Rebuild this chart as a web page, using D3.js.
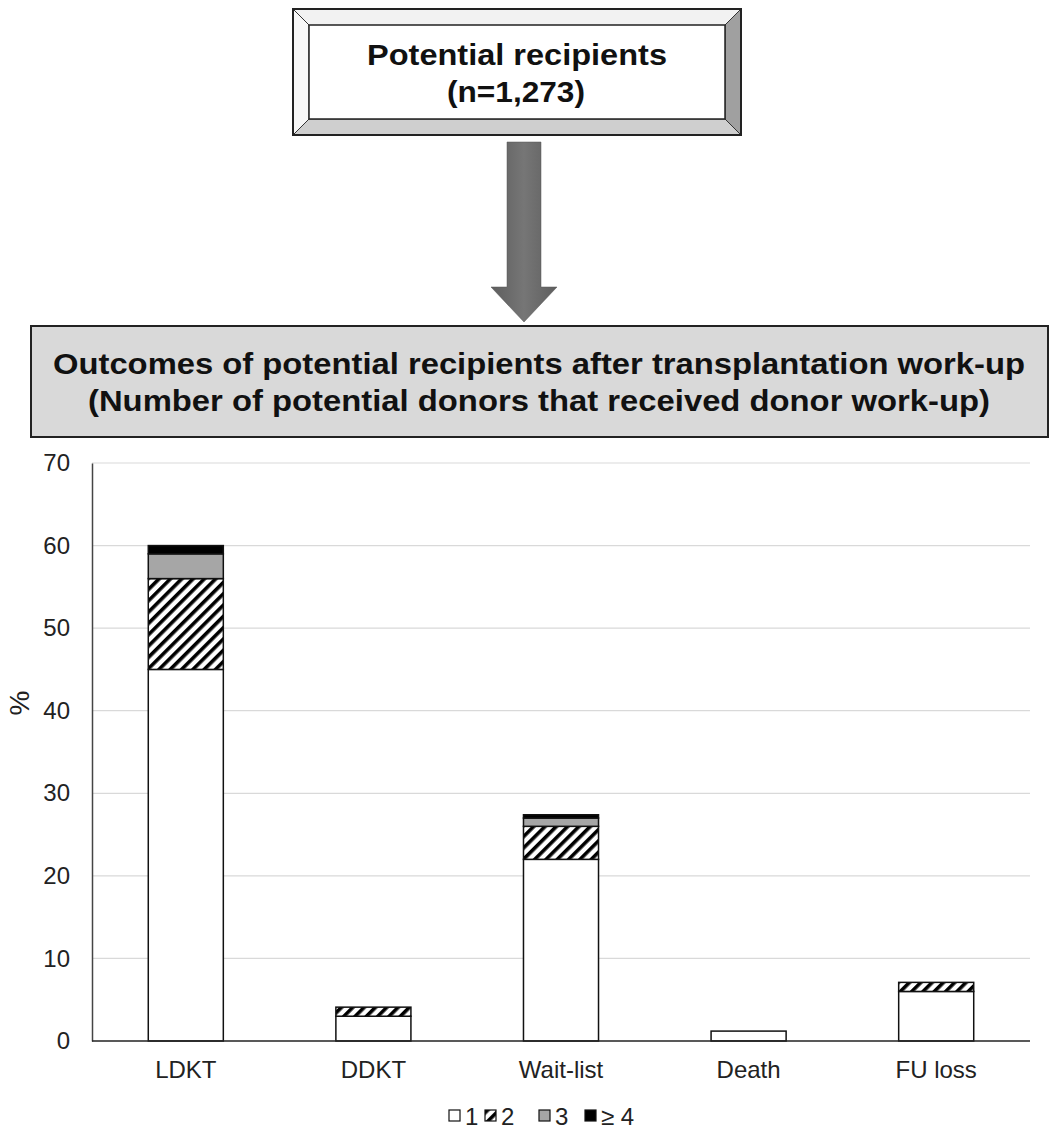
<!DOCTYPE html>
<html lang="en">
<head>
<meta charset="UTF-8">
<title>Outcomes of potential recipients</title>
<script src="https://cdn.jsdelivr.net/npm/d3@7"></script>
<style>
    body { margin: 0; background: #fff; }
    svg { display: block; font-family: "Liberation Sans", Arial, sans-serif; }
</style>
</head>
<body>
<script>

    var categories = ["LDKT", "DDKT", "Wait-list", "Death", "FU loss"];
    var seriesKeys = ["1", "2", "3", "\u2265 4"];
    var one   = [45, 3, 22, 1.2, 6];
    var two   = [11, 1.1, 4, 0, 1.1];
    var three = [3, 0, 1, 0, 0];
    var four  = [1, 0, 0.4, 0, 0];
    var yTicks = [0, 10, 20, 30, 40, 50, 60, 70];

    var width = 1062, height = 1144;
    var svg = d3.select("body").append("svg")
        .attr("width", width)
        .attr("height", height);

    var defs = svg.append("defs");
    var pat = defs.append("pattern")
        .attr("id", "hatch")
        .attr("patternUnits", "userSpaceOnUse")
        .attr("width", 8).attr("height", 8)
        .attr("patternTransform", "rotate(45)");
    pat.append("rect").attr("width", 8).attr("height", 8).attr("fill", "#fff");
    pat.append("rect").attr("x", 0).attr("width", 3.6).attr("height", 8).attr("fill", "#000");

    var grad = defs.append("linearGradient").attr("id", "arrowGrad")
        .attr("x1", 0).attr("x2", 1).attr("y1", 0).attr("y2", 0);
    grad.append("stop").attr("offset", "0%").attr("stop-color", "#5e5e5e");
    grad.append("stop").attr("offset", "50%").attr("stop-color", "#767676");
    grad.append("stop").attr("offset", "100%").attr("stop-color", "#5e5e5e");

    // top bevelled box
    var bx0 = 293, bx1 = 741, by0 = 9, by1 = 135, bv = 16;
    var gTop = svg.append("g");
    gTop.append("rect").attr("x", bx0).attr("y", by0)
        .attr("width", bx1 - bx0).attr("height", by1 - by0).attr("fill", "#f2f2f2");
    gTop.append("polygon")
        .attr("points", [[bx1, by0], [bx1, by1], [bx1 - bv, by1 - bv], [bx1 - bv, by0 + bv]].join(" "))
        .attr("fill", "#a0a0a0").attr("stroke", "#333").attr("stroke-width", 1);
    gTop.append("polygon")
        .attr("points", [[bx0, by1], [bx1, by1], [bx1 - bv, by1 - bv], [bx0 + bv, by1 - bv]].join(" "))
        .attr("fill", "#cfcfcf").attr("stroke", "#333").attr("stroke-width", 1);
    gTop.append("polygon")
        .attr("points", [[bx0, by0], [bx0 + bv, by0 + bv], [bx0 + bv, by1 - bv], [bx0, by1]].join(" "))
        .attr("fill", "#f7f7f7").attr("stroke", "#333").attr("stroke-width", 1);
    gTop.append("rect").attr("x", bx0 + bv).attr("y", by0 + bv)
        .attr("width", bx1 - bx0 - 2 * bv).attr("height", by1 - by0 - 2 * bv)
        .attr("fill", "#fff").attr("stroke", "#222").attr("stroke-width", 1.5);
    gTop.append("rect").attr("x", bx0).attr("y", by0)
        .attr("width", bx1 - bx0).attr("height", by1 - by0)
        .attr("fill", "none").attr("stroke", "#222").attr("stroke-width", 2);
    gTop.append("text").attr("x", 367).attr("y", 65)
        .attr("font-size", 30).attr("font-weight", "bold")
        .attr("textLength", 300).attr("lengthAdjust", "spacingAndGlyphs")
        .attr("fill", "#111").text("Potential recipients");
    gTop.append("text").attr("x", 447).attr("y", 102)
        .attr("font-size", 30).attr("font-weight", "bold")
        .attr("textLength", 138).attr("lengthAdjust", "spacingAndGlyphs")
        .attr("fill", "#111").text("(n=1,273)");

    // arrow
    var ax = 524;
    svg.append("polygon")
        .attr("points", [[ax - 17, 142], [ax + 17, 142], [ax + 17, 287], [ax + 33, 287],
            [ax, 322], [ax - 33, 287], [ax - 17, 287]].join(" "))
        .attr("fill", "url(#arrowGrad)").attr("stroke", "#555").attr("stroke-width", 0.5);

    // second box
    svg.append("rect").attr("x", 31).attr("y", 326).attr("width", 1017).attr("height", 111)
        .attr("fill", "#d9d9d9").attr("stroke", "#222").attr("stroke-width", 2);
    svg.append("text").attr("x", 53).attr("y", 374)
        .attr("font-size", 29).attr("font-weight", "bold")
        .attr("textLength", 972).attr("lengthAdjust", "spacingAndGlyphs")
        .attr("fill", "#111").text("Outcomes of potential recipients after transplantation work-up");
    svg.append("text").attr("x", 88).attr("y", 411)
        .attr("font-size", 29).attr("font-weight", "bold")
        .attr("textLength", 902).attr("lengthAdjust", "spacingAndGlyphs")
        .attr("fill", "#111").text("(Number of potential donors that received donor work-up)");

    // chart
    var plotLeft = 92, plotRight = 1030, plotTop = 463, plotBottom = 1041;

    var x = d3.scaleBand()
        .domain(categories)
        .range([plotLeft, plotRight])
        .paddingInner(0.6)
        .paddingOuter(0.3);

    var y = d3.scaleLinear()
        .domain([0, 70])
        .range([plotBottom, plotTop]);

    var gGrid = svg.append("g");
    gGrid.selectAll("line")
        .data(yTicks.filter(function (d) { return d > 0; }))
        .enter().append("line")
        .attr("x1", plotLeft).attr("x2", plotRight)
        .attr("y1", function (d) { return y(d); })
        .attr("y2", function (d) { return y(d); })
        .attr("stroke", "#d9d9d9").attr("stroke-width", 1.2);

    var table = categories.map(function (c, i) {
        var row = { cat: c };
        row[seriesKeys[0]] = one[i];
        row[seriesKeys[1]] = two[i];
        row[seriesKeys[2]] = three[i];
        row[seriesKeys[3]] = four[i];
        return row;
    });
    var stacked = d3.stack().keys(seriesKeys)(table);
    var fills = ["#fff", "url(#hatch)", "#a6a6a6", "#000"];

    var gBars = svg.append("g");
    stacked.forEach(function (layer, li) {
        gBars.append("g").selectAll("rect")
            .data(layer.filter(function (d) { return d[1] - d[0] > 0; }))
            .enter().append("rect")
            .attr("x", function (d) { return x(d.data.cat); })
            .attr("width", x.bandwidth())
            .attr("y", function (d) { return y(d[1]); })
            .attr("height", function (d) { return y(d[0]) - y(d[1]); })
            .attr("fill", fills[li])
            .attr("stroke", "#111").attr("stroke-width", 1.5);
    });

    var yAxis = d3.axisLeft(y).tickValues(yTicks).tickSize(0).tickPadding(22);
    var gY = svg.append("g").attr("transform", "translate(" + plotLeft + ",0)").call(yAxis);
    gY.select(".domain").attr("stroke", "#444").attr("stroke-width", 1.5);
    gY.selectAll("text").attr("font-size", 24).attr("fill", "#222")
        .attr("font-family", "Liberation Sans, Arial, sans-serif");

    var xAxis = d3.axisBottom(x).tickSize(0).tickPadding(20);
    var gX = svg.append("g").attr("transform", "translate(0," + plotBottom + ")").call(xAxis);
    gX.select(".domain").attr("stroke", "#222").attr("stroke-width", 1.5)
        .attr("d", "M" + plotLeft + ",0H" + plotRight);
    gX.selectAll("text").attr("font-size", 24).attr("fill", "#222")
        .attr("font-family", "Liberation Sans, Arial, sans-serif");

    svg.append("text")
        .attr("transform", "translate(29,703) rotate(-90)")
        .attr("text-anchor", "middle").attr("font-size", 28).attr("fill", "#222")
        .text("%");

    // legend
    var legendX = [449, 485, 539, 585];
    var gLeg = svg.append("g");
    seriesKeys.forEach(function (k, i) {
        gLeg.append("rect").attr("x", legendX[i]).attr("y", 1110).attr("width", 11).attr("height", 11)
            .attr("fill", fills[i])
            .attr("stroke", "#111").attr("stroke-width", 1.2);
        gLeg.append("text").attr("x", legendX[i] + 16).attr("y", 1125)
            .attr("font-size", 24).attr("fill", "#222").text(k);
    });

</script>
</body>
</html>
